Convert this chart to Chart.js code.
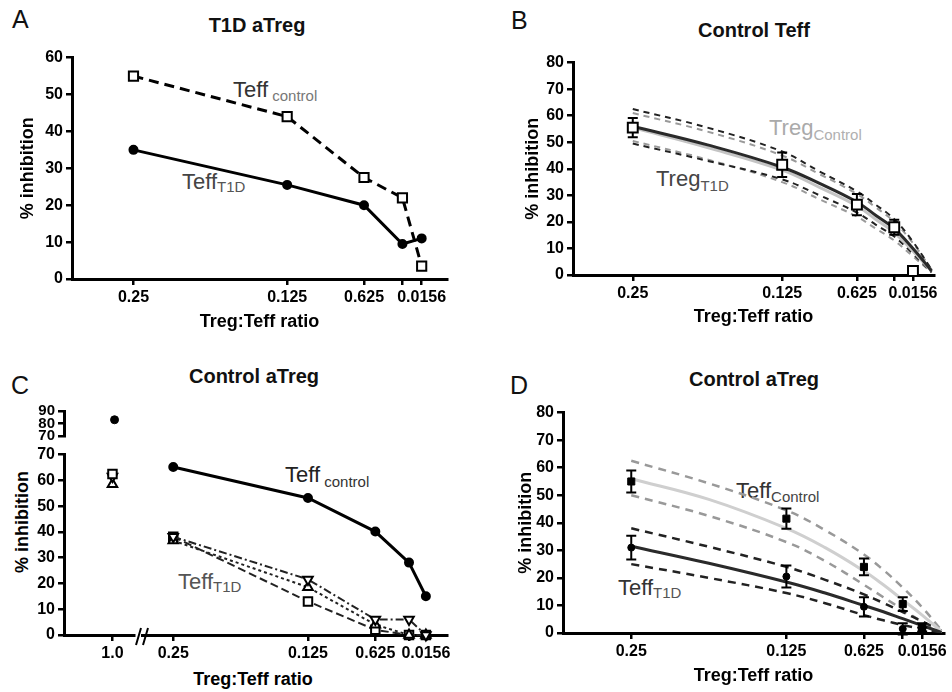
<!DOCTYPE html>
<html>
<head>
<meta charset="utf-8">
<script src="https://cdn.jsdelivr.net/npm/chart.js@4.4.0/dist/chart.umd.min.js"></script>
<style>
    body { margin: 0; background: #fff; }
    #fig { position: relative; width: 952px; height: 692px; overflow: hidden; font-family: 'Liberation Sans', Arial, sans-serif; }
    #fig canvas { position: absolute; }
    .t { position: absolute; white-space: nowrap; line-height: 1; }
    .letter { font-size: 25px; color: #111; }
    .title { font-size: 20px; font-weight: bold; color: #111; transform: translateX(-50%); }
    .axis { font-size: 18px; font-weight: bold; color: #000; }
    .lab { font-size: 22px; }
    .lab span { font-size: 15px; position: relative; }
</style>
</head>
<body>
<div id="fig">
    <div class="t letter" style="left:12px;top:7px">A</div>
    <div class="t letter" style="left:511px;top:8px">B</div>
    <div class="t letter" style="left:11px;top:373px">C</div>
    <div class="t letter" style="left:510px;top:373px">D</div>

    <div class="t title" style="left:257px;top:15px">T1D aTreg</div>
    <div class="t title" style="left:754px;top:20px">Control Teff</div>
    <div class="t title" style="left:254px;top:366px">Control aTreg</div>
    <div class="t title" style="left:754px;top:369px">Control aTreg</div>

    <div class="t lab" style="left:233px;top:79px;color:#333">Teff<span style="top:4px;color:#777"> control</span></div>
    <div class="t lab" style="left:182px;top:171px;color:#444">Teff<span style="top:3px;color:#555">T1D</span></div>
    <div class="t lab" style="left:769px;top:117px;color:#aaa">Treg<span style="top:5px;color:#b0b0b0">Control</span></div>
    <div class="t lab" style="left:656px;top:168px;color:#444">Treg<span style="top:5px;color:#555">T1D</span></div>
    <div class="t lab" style="left:285px;top:464px;color:#222">Teff<span style="top:5px;color:#333"> control</span></div>
    <div class="t lab" style="left:178px;top:571px;color:#555">Teff<span style="top:3px;color:#555">T1D</span></div>
    <div class="t lab" style="left:736px;top:480px;color:#333">Teff<span style="top:4px;color:#444">Control</span></div>
    <div class="t lab" style="left:618px;top:577px;color:#333">Teff<span style="top:3px;color:#555">T1D</span></div>

    <div class="t axis" style="left:22px;top:522px;transform:translate(-50%,-50%) rotate(-90deg)">% inhibition</div>
    <div class="t axis" style="left:253px;top:670px;transform:translateX(-50%)">Treg:Teff ratio</div>
</div>
<script>
// x axis: Treg:Teff ratio (plotted on a linear, reversed scale)
const ratioTicks = [0.25, 0.125, 0.0625, 0.03125, 0.0156];
const ratioLabels = ['0.25', '0.125', '0.625', '', '0.0156'];

// Panel A - T1D aTreg
const aControl = [55, 44, 27.5, 22, 3.5];
const aT1D = [35, 25.5, 20, 9.5, 11];

// Panel B - Control Teff (mean +/- error, fitted curves with bands)
const bMean = [55.5, 41.5, 26.5, 18, 1.5];
const bErr = [3.6, 4.6, 4, 2.8, 0];
const fitX = [0.25, 0.1875, 0.125, 0.09375, 0.0625, 0.046875, 0.03125, 0.0156, 0];
const bFitT1D = [56, 49, 40.6, 34.5, 27.5, 22.5, 17.5, 10, 1.5];
const bUpT1D = [62.5, 55.5, 46.5, 39, 31.5, 26.5, 21, 12.5, 2];
const bLoT1D = [49.5, 43, 36, 30, 23.5, 19, 14.5, 8, 1];
const bFitCtl = [55.5, 48, 39.5, 33, 26, 21, 16, 9, 1.5];
const bUpCtl = [61, 54, 45, 38, 30.5, 25.5, 20, 12, 2];
const bLoCtl = [50.5, 43.5, 35, 28.5, 22, 17.5, 13, 7, 1];

// Panel C - Control aTreg (1.0 ratio shown past an axis break)
const highRatio = [1.0];
const highRatioLabels = ['1.0'];
const cControlAtOne = [83];
const cSquareAtOne = [62.5];
const cDownAtOne = [61.5];
const cUpAtOne = [58.5];
const cControl = [65, 53, 40, 28, 15];
const cSquare = [38, 13, 2, 0, 0];
const cDown = [38, 21.5, 6, 6, 0];
const cUp = [36.5, 18.5, 4, 0, 0];

// Panel D - Control aTreg (mean +/- error, fitted curves with bands)
const dCtlMean = [55, 41.5, 24, 10.5, 2];
const dCtlErr = [4, 3.7, 3, 2.5, 1.5];
const dT1DMean = [31, 20.5, 9.5, 1.5, 1];
const dT1DErr = [4.3, 4, 3.5, 2, 1];
const dFitCtl = [56, 48.5, 38, 31, 22.5, 17.5, 12, 6.5, 0.5];
const dUpCtl = [62.5, 54.3, 44.5, 37.3, 28.5, 22.9, 16.5, 9.3, 1];
const dLoCtl = [50, 42.5, 33, 26.1, 17.5, 13, 8.5, 4, 0];
const dFitT1D = [31.5, 25.3, 18.5, 14.5, 10, 7.7, 5.2, 2.7, 0.2];
const dUpT1D = [38, 31.3, 24, 19.3, 14, 10.9, 7.6, 4.2, 0.8];
const dLoT1D = [25, 20, 14.5, 10.8, 6.5, 4.6, 2.9, 1.4, 0.2];

const FONT = "'Liberation Sans', Arial, sans-serif";
Chart.defaults.font.family = FONT;
Chart.defaults.color = '#000';

const tickFont = { family: FONT, size: 16, weight: 'bold' };
const smallTickFont = { family: FONT, size: 15, weight: 'bold' };
const axisFont = { family: FONT, size: 18, weight: 'bold' };
const gridStyle = { drawOnChartArea: false, tickLength: 6, color: '#000', lineWidth: 2.5 };
const borderStyle = { color: '#000', width: 3 };

function pts(xs, ys) {
    return ys.map((y, i) => ({ x: xs[i], y: y }));
}

// draws vertical error bars for datasets that carry an "errors" array
const errorBars = {
    id: 'errorBars',
    afterDatasetsDraw(chart) {
        const ctx = chart.ctx;
        const xs = chart.scales.x, ys = chart.scales.y;
        chart.data.datasets.forEach(ds => {
            if (!ds.errors) return;
            ctx.save();
            ctx.strokeStyle = '#000';
            ctx.lineWidth = 2;
            const r = ds.pointStyle === 'rect' ? (ds.pointRadius || 0) * 0.7 : (ds.pointRadius || 0);
            ds.data.forEach((p, j) => {
                const e = ds.errors[j];
                if (!e) return;
                const px = xs.getPixelForValue(p.x);
                const py = ys.getPixelForValue(p.y);
                const top = ys.getPixelForValue(p.y + e);
                const bot = ys.getPixelForValue(p.y - e);
                ctx.beginPath();
                ctx.moveTo(px, top); ctx.lineTo(px, Math.min(py - r, bot));
                ctx.moveTo(px, Math.max(py + r, top)); ctx.lineTo(px, bot);
                ctx.moveTo(px - 5, top); ctx.lineTo(px + 5, top);
                ctx.moveTo(px - 5, bot); ctx.lineTo(px + 5, bot);
                ctx.stroke();
            });
            ctx.restore();
        });
    }
};

// the "//" break marks on the x axis of panel C
const axisBreak = {
    id: 'axisBreak',
    afterDraw(chart) {
        const { left, bottom } = chart.chartArea;
        const ctx = chart.ctx;
        ctx.save();
        ctx.strokeStyle = '#000';
        ctx.lineWidth = 2;
        ctx.beginPath();
        ctx.moveTo(left - 6, bottom + 10); ctx.lineTo(left - 1, bottom - 7);
        ctx.moveTo(left + 1, bottom + 10); ctx.lineTo(left + 6, bottom - 7);
        ctx.stroke();
        ctx.restore();
    }
};

function ratioScale(min, max, xh, showTitle) {
    return {
        type: 'linear', reverse: true, min: min, max: max,
        afterBuildTicks: s => { s.ticks = ratioTicks.map(v => ({ value: v })); },
        ticks: {
            autoSkip: false, maxRotation: 0, minRotation: 0, font: tickFont, padding: 3,
            callback: v => ratioLabels[ratioTicks.indexOf(v)]
        },
        grid: gridStyle,
        border: borderStyle,
        title: { display: showTitle, text: 'Treg:Teff ratio', font: axisFont, padding: 0 },
        afterFit: s => { s.height = xh; }
    };
}

function valueScale(min, max, yw, showTitle) {
    return {
        min: min, max: max,
        ticks: { stepSize: 10, autoSkip: false, font: tickFont, padding: 3 },
        grid: gridStyle,
        border: borderStyle,
        title: { display: showTitle, text: '% inhibition', font: axisFont, padding: 0 },
        afterFit: s => { s.width = yw; }
    };
}

function makeChart(box, datasets, scales, padding, plugins) {
    const canvas = document.createElement('canvas');
    canvas.width = box.w;
    canvas.height = box.h;
    canvas.style.left = box.l + 'px';
    canvas.style.top = box.t + 'px';
    document.getElementById('fig').appendChild(canvas);
    return new Chart(canvas.getContext('2d'), {
        type: 'line',
        data: { datasets: datasets },
        options: {
            responsive: false,
            animation: false,
            events: [],
            layout: { padding: padding },
            plugins: { legend: { display: false }, tooltip: { enabled: false } },
            scales: scales
        },
        plugins: plugins || []
    });
}

function curve(xs, ys, color, width, dash) {
    return {
        data: pts(xs, ys), borderColor: color, borderWidth: width, borderDash: dash || [],
        pointRadius: 0, tension: 0.4, fill: false
    };
}

// Panel A
makeChart({ l: 17, t: 45, w: 445, h: 288 }, [
    {
        data: pts(ratioTicks, aT1D), borderColor: '#000', borderWidth: 3,
        pointStyle: 'circle', pointRadius: 3.5, pointBackgroundColor: '#000', pointBorderColor: '#000', clip: false
    },
    {
        data: pts(ratioTicks, aControl), borderColor: '#000', borderWidth: 3, borderDash: [10, 6],
        pointStyle: 'rect', pointRadius: 6.5, pointBackgroundColor: '#fff', pointBorderColor: '#000',
        pointBorderWidth: 2, clip: false
    }
], {
    x: ratioScale(-0.005, 0.3, 54, true),
    y: valueScale(0, 60, 55, true)
}, { top: 12, right: 15, left: 0, bottom: 0 });

// Panel B
makeChart({ l: 522, t: 50, w: 427, h: 278 }, [
    {
        data: pts(ratioTicks, bMean), errors: bErr, showLine: false,
        pointStyle: 'rect', pointRadius: 7, pointBackgroundColor: '#fff', pointBorderColor: '#000',
        pointBorderWidth: 2, clip: false
    },
    curve(fitX, bFitT1D, '#2a2a2a', 3),
    curve(fitX, bFitCtl, '#c4c4c4', 3),
    curve(fitX, bUpT1D, '#222', 2, [6, 5]),
    curve(fitX, bLoT1D, '#222', 2, [6, 5]),
    curve(fitX, bUpCtl, '#9a9a9a', 2, [6, 5]),
    curve(fitX, bLoCtl, '#9a9a9a', 2, [6, 5])
], {
    x: ratioScale(-0.002, 0.3, 53, true),
    y: valueScale(0, 80, 51, true)
}, { top: 12, right: 15, left: 0, bottom: 0 }, [errorBars]);

// Panel C, upper broken segment (70-90)
makeChart({ l: 24, t: 399, w: 118, h: 49 }, [
    {
        data: pts(highRatio, cControlAtOne), showLine: false,
        pointStyle: 'circle', pointRadius: 4, pointBackgroundColor: '#000', pointBorderColor: '#000'
    }
], {
    x: { type: 'linear', min: 0.3, max: 1.311, display: false },
    y: {
        min: 70, max: 90,
        ticks: { stepSize: 10, autoSkip: false, font: smallTickFont, padding: 3 },
        grid: gridStyle, border: borderStyle,
        afterFit: s => { s.width = 40; }
    }
}, { top: 10, right: 0, left: 0, bottom: 10 });

// Panel C, 1.0 column
makeChart({ l: 24, t: 442, w: 118, h: 223 }, [
    {
        data: pts(highRatio, cSquareAtOne), showLine: false,
        pointStyle: 'rect', pointRadius: 6, pointBackgroundColor: '#fff', pointBorderColor: '#000', pointBorderWidth: 2
    },
    {
        data: pts(highRatio, cDownAtOne), showLine: false,
        pointStyle: 'triangle', rotation: 180, pointRadius: 5.5, pointBackgroundColor: '#fff', pointBorderColor: '#000', pointBorderWidth: 2
    },
    {
        data: pts(highRatio, cUpAtOne), showLine: false,
        pointStyle: 'triangle', pointRadius: 5.5, pointBackgroundColor: '#fff', pointBorderColor: '#000', pointBorderWidth: 2
    }
], {
    x: {
        type: 'linear', min: 0.3, max: 1.311,
        afterBuildTicks: s => { s.ticks = highRatio.map(v => ({ value: v })); },
        ticks: { autoSkip: false, maxRotation: 0, font: tickFont, padding: 3,
            callback: v => highRatioLabels[highRatio.indexOf(v)] },
        grid: gridStyle, border: borderStyle,
        afterFit: s => { s.height = 30; }
    },
    y: valueScale(0, 70, 40, false)
}, { top: 12, right: 0, left: 0, bottom: 0 });

// Panel C, main ratio range
makeChart({ l: 122, t: 442, w: 340, h: 223 }, [
    {
        data: pts(ratioTicks, cControl), borderColor: '#000', borderWidth: 3,
        pointStyle: 'circle', pointRadius: 3.5, pointBackgroundColor: '#000', pointBorderColor: '#000', clip: false
    },
    {
        data: pts(ratioTicks, cDown), borderColor: '#222', borderWidth: 2, borderDash: [8, 3, 2, 3],
        pointStyle: 'triangle', rotation: 180, pointRadius: 5.5, pointBackgroundColor: '#fff',
        pointBorderColor: '#000', pointBorderWidth: 2, clip: false
    },
    {
        data: pts(ratioTicks, cUp), borderColor: '#222', borderWidth: 2, borderDash: [3, 3],
        pointStyle: 'triangle', pointRadius: 5.5, pointBackgroundColor: '#fff',
        pointBorderColor: '#000', pointBorderWidth: 2, clip: false
    },
    {
        data: pts(ratioTicks, cSquare), borderColor: '#222', borderWidth: 2, borderDash: [8, 4],
        pointStyle: 'rect', pointRadius: 6, pointBackgroundColor: '#fff',
        pointBorderColor: '#000', pointBorderWidth: 2, clip: false
    }
], {
    x: ratioScale(-0.004, 0.279, 30, false),
    y: { min: 0, max: 70, display: false }
}, { top: 12, right: 15, left: 20, bottom: 0 }, [axisBreak]);

// Panel D
makeChart({ l: 515, t: 400, w: 437, h: 287 }, [
    {
        data: pts(ratioTicks, dT1DMean), errors: dT1DErr, showLine: false,
        pointStyle: 'circle', pointRadius: 3.5, pointBackgroundColor: '#000', pointBorderColor: '#000', clip: false
    },
    {
        data: pts(ratioTicks, dCtlMean), errors: dCtlErr, showLine: false,
        pointStyle: 'rect', pointRadius: 5, pointBackgroundColor: '#000', pointBorderColor: '#000', clip: false
    },
    curve(fitX, dFitT1D, '#2a2a2a', 3),
    curve(fitX, dFitCtl, '#cfcfcf', 3),
    curve(fitX, dUpT1D, '#222', 2.5, [8, 6]),
    curve(fitX, dLoT1D, '#222', 2.5, [8, 6]),
    curve(fitX, dUpCtl, '#999', 2.5, [8, 6]),
    curve(fitX, dLoCtl, '#999', 2.5, [8, 6])
], {
    x: ratioScale(-0.002, 0.305, 54, true),
    y: valueScale(0, 80, 48, true)
}, { top: 12, right: 8, left: 0, bottom: 0 }, [errorBars]);
</script>
</body>
</html>
